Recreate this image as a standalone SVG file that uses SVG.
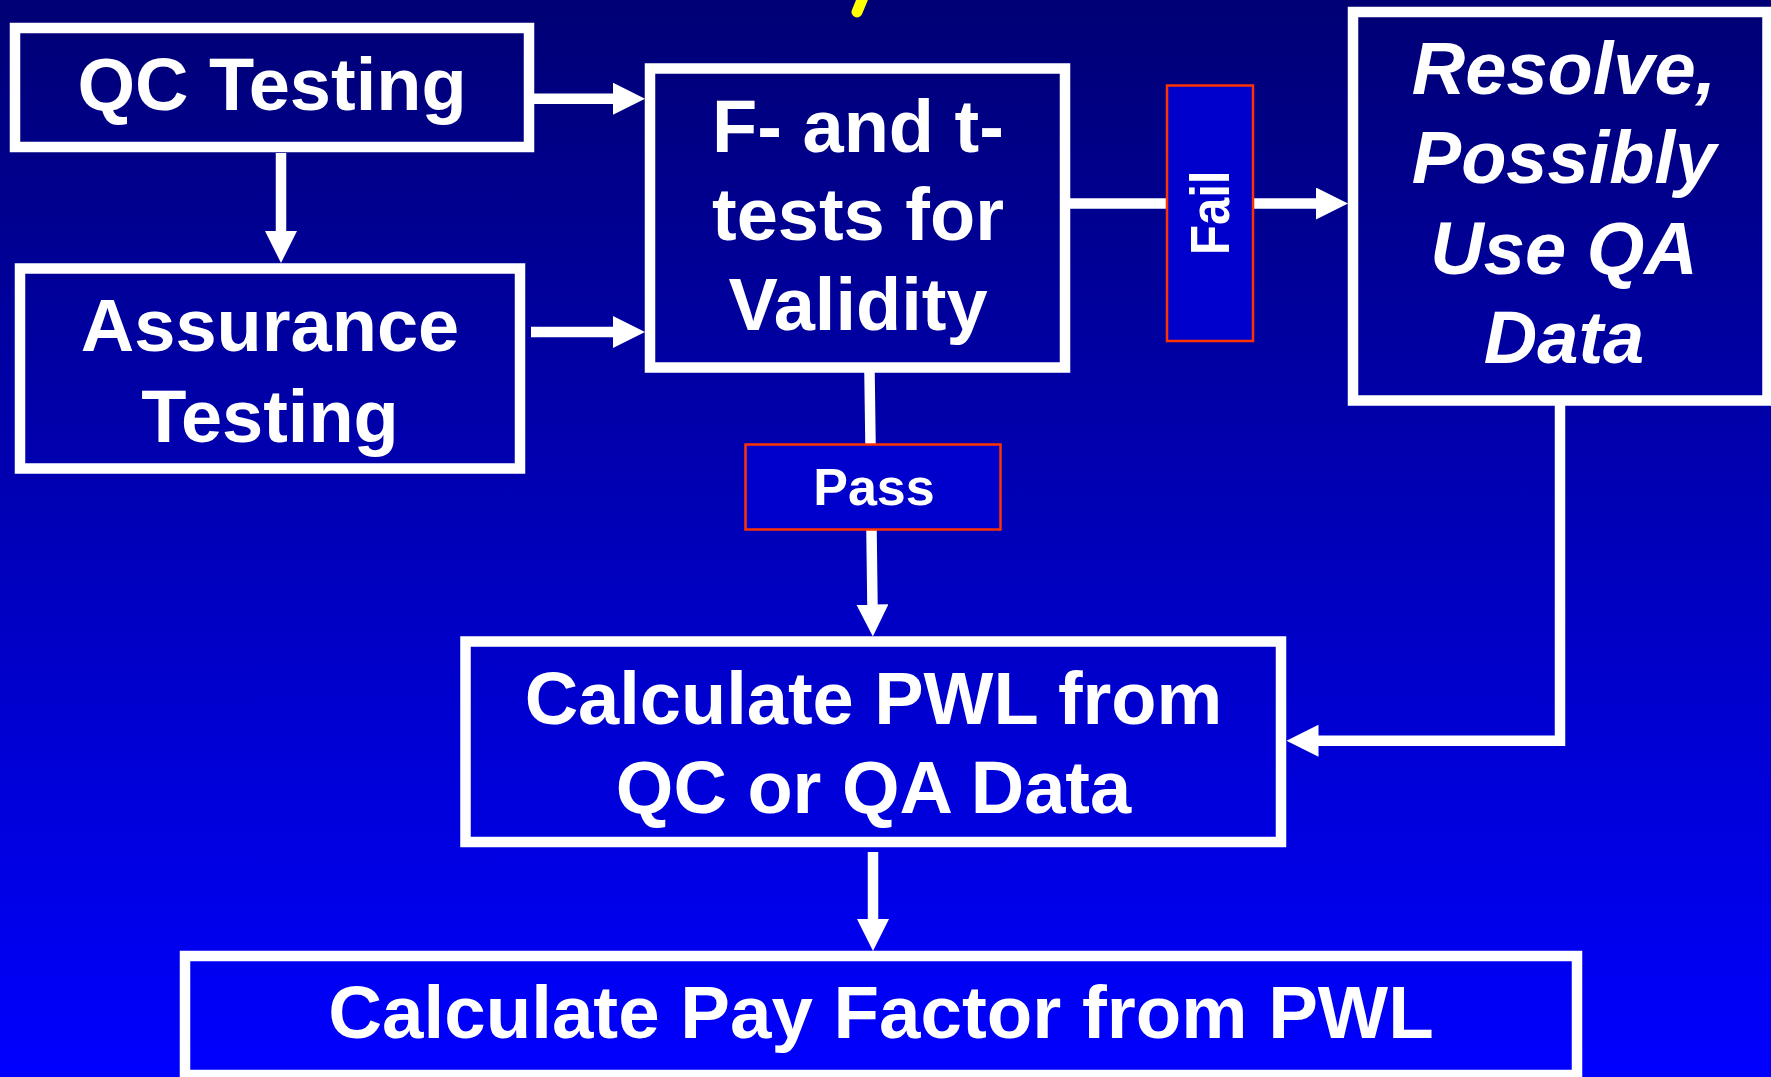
<svg xmlns="http://www.w3.org/2000/svg" width="1771" height="1077" viewBox="0 0 1771 1077">
<defs>
  <linearGradient id="bg" x1="0" y1="0" x2="0" y2="1">
    <stop offset="0" stop-color="#000074"/>
    <stop offset="1" stop-color="#0000FF"/>
  </linearGradient>
  <marker id="ah" markerUnits="userSpaceOnUse" viewBox="0 0 32 32" refX="4" refY="16" markerWidth="32" markerHeight="32" orient="auto">
    <path d="M0,0 L32,16 L0,32 z" fill="#FFFFFF"/>
  </marker>
  <style>
    .box { fill: none; stroke: #FFFFFF; stroke-width: 10.5; }
    .lbl { fill: #0000CC; stroke: #FF3300; stroke-width: 2.5; }
    .t { font-family: "Liberation Sans", Arial, sans-serif; font-weight: bold; fill: #FFFFFF; text-anchor: middle; font-size: 74px; }
    .it { font-style: italic; }
    .c { fill: none; stroke: #FFFFFF; stroke-width: 10.5; stroke-linejoin: miter; }
    .ca { marker-end: url(#ah); }
  </style>
</defs>
<rect x="0" y="0" width="1771" height="1077" fill="url(#bg)"/>
<line x1="864" y1="-5" x2="857" y2="12" stroke="#FFFF00" stroke-width="11" stroke-linecap="round"/>

<g id="connectors">
  <line class="c ca" x1="534" y1="98.7" x2="617" y2="98.7"/>
  <line class="c ca" x1="531" y1="332" x2="617" y2="332"/>
  <line class="c ca" x1="281" y1="153" x2="281" y2="235"/>
  <line class="c" x1="869.5" y1="372" x2="870.5" y2="444"/>
  <line class="c ca" x1="871.5" y1="530" x2="872.5" y2="608.5"/>
  <line class="c" x1="1069" y1="203.5" x2="1167" y2="203.5"/>
  <line class="c ca" x1="1253" y1="203.5" x2="1320" y2="203.5"/>
  <polyline class="c ca" points="1560,405 1560,740.7 1314.5,740.7"/>
  <line class="c ca" x1="873" y1="852" x2="873" y2="923"/>
</g>

<g id="qc-testing">
  <rect class="box" x="15" y="28" width="514" height="119"/>
  <text class="t" x="272" y="110">QC Testing</text>
</g>
<g id="assurance-testing">
  <rect class="box" x="20" y="268.5" width="500" height="200"/>
  <text class="t" x="270" y="351">Assurance</text>
  <text class="t" x="270" y="442">Testing</text>
</g>
<g id="validity-tests">
  <rect class="box" x="650" y="68.5" width="415" height="299"/>
  <text class="t" x="858" y="152">F- and t-</text>
  <text class="t" x="858" y="240">tests for</text>
  <text class="t" x="858" y="330">Validity</text>
</g>
<g id="fail-label">
  <rect class="lbl" x="1167" y="85.5" width="86" height="255.5"/>
  <text class="t" style="font-size:49px" transform="translate(1229,212.8) scale(1.13,1) rotate(-90)" x="0" y="0">Fail</text>
</g>
<g id="resolve">
  <rect class="box" x="1353" y="12" width="414.5" height="388.5"/>
  <text class="t it" x="1564" y="94">Resolve,</text>
  <text class="t it" x="1564" y="183">Possibly</text>
  <text class="t it" x="1564" y="274">Use QA</text>
  <text class="t it" x="1564" y="363">Data</text>
</g>
<g id="pass-label">
  <rect class="lbl" x="745.5" y="444.5" width="255" height="85"/>
  <text class="t" style="font-size:52px" x="874" y="505">Pass</text>
</g>
<g id="calculate-pwl">
  <rect class="box" x="465.5" y="641.5" width="815.5" height="200.5"/>
  <text class="t" x="873.5" y="724">Calculate PWL from</text>
  <text class="t" x="873.5" y="813">QC or QA Data</text>
</g>
<g id="calculate-pay-factor">
  <rect class="box" x="185" y="956" width="1392" height="119"/>
  <text class="t" style="font-size:74.5px" x="881" y="1038">Calculate Pay Factor from PWL</text>
</g>
</svg>
